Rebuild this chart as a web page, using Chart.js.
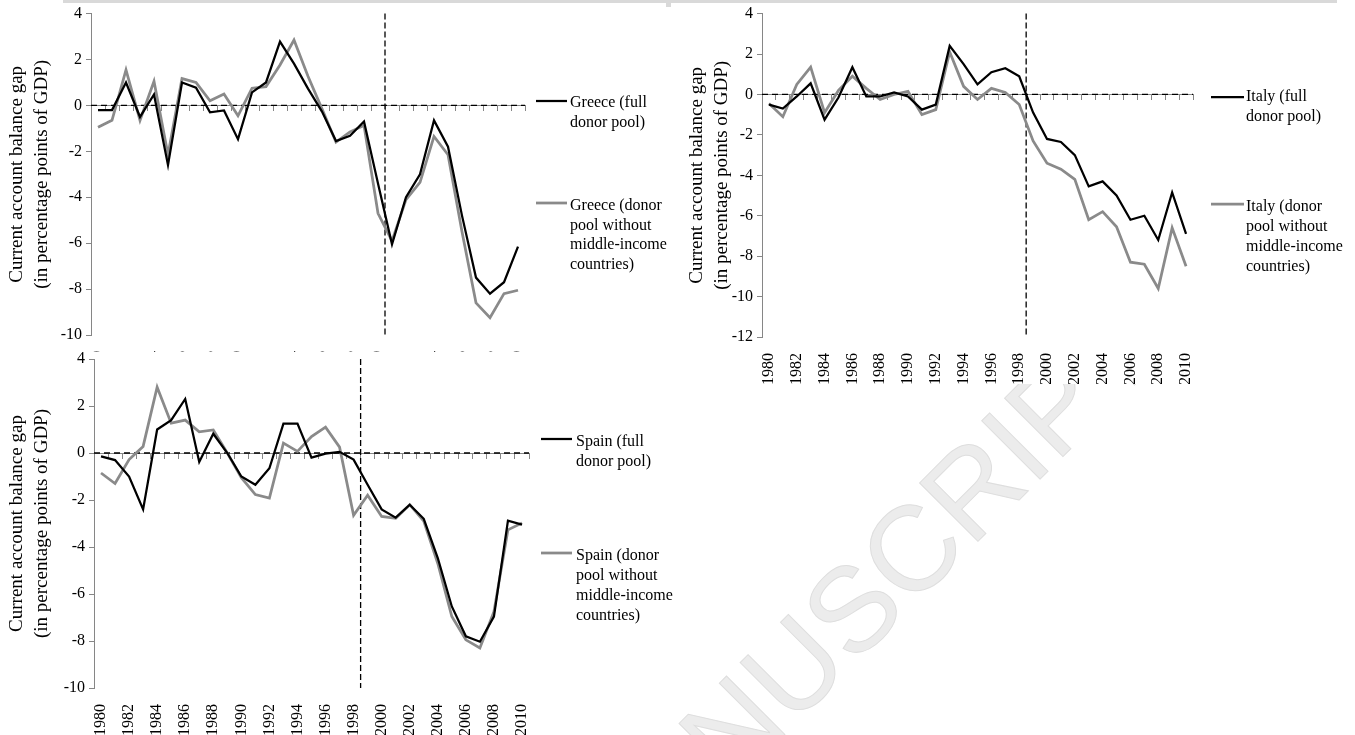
<!DOCTYPE html>
<html>
<head>
<meta charset="utf-8">
<script src="https://cdn.jsdelivr.net/npm/chart.js@4.4.0/dist/chart.umd.min.js"></script>
<style>
  html, body { margin: 0; padding: 0; background: #fff; }
  body { width: 1355px; height: 735px; position: relative; overflow: hidden; }
  .panel { position: absolute; z-index: 2; overflow: hidden; }
  #greeceWrap { left: 0; top: 0; width: 680px; height: 352px; background: #fff; }
  #italyWrap { left: 680px; top: 0; width: 675px; height: 384px; background: #fff; }
  #spainWrap { left: 0; top: 345px; width: 680px; height: 390px; z-index: 3; }
  #topBand { position: absolute; left: 63px; top: 0; width: 1274px; height: 3px; background: #d9d9d9; z-index: 4; }
  #topTick { position: absolute; left: 666px; top: 0; width: 5px; height: 7px; background: #d9d9d9; z-index: 4; }
  #watermark {
    position: absolute; left: 88px; top: 1317px; z-index: 1;
    font-family: 'Liberation Sans', sans-serif; font-size: 120px; line-height: 110px; height: 110px;
    white-space: nowrap; color: #ececec; -webkit-text-stroke: 1px #dedede;
    transform-origin: 0 50%; transform: rotate(-45deg);
  }
</style>
</head>
<body>
<div id="watermark">ACCEPTED MANUSCRIPT</div>
<div id="topBand"></div>
<div id="topTick"></div>
<div class="panel" id="greeceWrap"><canvas id="greeceChart" width="680" height="420"></canvas></div>
<div class="panel" id="italyWrap"><canvas id="italyChart" width="675" height="384"></canvas></div>
<div class="panel" id="spainWrap"><canvas id="spainChart" width="680" height="390"></canvas></div>
<script>
// Current account balance gaps, synthetic control vs. actual, 1980-2010.

const years = ['1980', '1981', '1982', '1983', '1984', '1985', '1986', '1987', '1988', '1989',
    '1990', '1991', '1992', '1993', '1994', '1995', '1996', '1997', '1998', '1999',
    '2000', '2001', '2002', '2003', '2004', '2005', '2006', '2007', '2008', '2009', '2010'];

const greeceFull = [-0.2, -0.2, 1.0, -0.5, 0.48, -2.6, 1.0, 0.77, -0.3, -0.22,
    -1.47, 0.57, 1.0, 2.78, 1.82, 0.73, -0.27, -1.55, -1.32, -0.7,
    -3.4, -6.05, -4.0, -3.0, -0.65, -1.8, -4.8, -7.5, -8.2, -7.7, -6.15];
const greeceNoMiddle = [-0.95, -0.65, 1.55, -0.65, 1.05, -2.15, 1.17, 1.0, 0.2, 0.5,
    -0.45, 0.75, 0.82, 1.76, 2.85, 1.27, -0.15, -1.6, -1.15, -0.87,
    -4.7, -5.9, -4.1, -3.35, -1.35, -2.15, -5.5, -8.6, -9.25, -8.2, -8.05];

const italyFull = [-0.5, -0.7, -0.1, 0.55, -1.25, -0.15, 1.35, -0.1, -0.1, 0.1,
    -0.1, -0.75, -0.5, 2.4, 1.5, 0.5, 1.1, 1.3, 0.9, -0.9,
    -2.2, -2.35, -3.0, -4.55, -4.3, -5.0, -6.2, -6.0, -7.2, -4.85, -6.9];
const italyNoMiddle = [-0.45, -1.1, 0.5, 1.35, -0.9, 0.2, 0.9, 0.3, -0.25, 0.0,
    0.15, -1.0, -0.75, 2.1, 0.4, -0.25, 0.3, 0.1, -0.5, -2.3,
    -3.4, -3.7, -4.2, -6.2, -5.8, -6.55, -8.3, -8.4, -9.6, -6.6, -8.5];

const spainFull = [-0.14, -0.3, -1.0, -2.4, 1.0, 1.4, 2.3, -0.38, 0.82, 0.0,
    -1.0, -1.35, -0.65, 1.25, 1.25, -0.2, -0.03, 0.05, -0.28, -1.35,
    -2.4, -2.75, -2.2, -2.8, -4.47, -6.53, -7.8, -8.03, -6.96, -2.88, -3.05];
const spainNoMiddle = [-0.85, -1.3, -0.28, 0.28, 2.8, 1.27, 1.4, 0.9, 0.98, 0.0,
    -1.05, -1.77, -1.92, 0.42, 0.07, 0.7, 1.1, 0.25, -2.65, -1.8,
    -2.7, -2.78, -2.2, -2.9, -4.7, -6.96, -7.95, -8.3, -6.75, -3.27, -2.98];

const greeceLegend = [['Greece (full', 'donor pool)'], ['Greece (donor', 'pool without', 'middle-income', 'countries)']];
const italyLegend = [['Italy (full', 'donor pool)'], ['Italy (donor', 'pool without', 'middle-income', 'countries)']];
const spainLegend = [['Spain (full', 'donor pool)'], ['Spain (donor', 'pool without', 'middle-income', 'countries)']];

const yAxisTitle = ['Current account balance gap', '(in percentage points of GDP)'];

const FONT = "'Liberation Serif', 'Times New Roman', serif";
const AXIS_GREY = '#868686';

// zero line (dashed) and the euro-entry marker between two years
const referenceLines = {
    id: 'referenceLines',
    beforeDatasetsDraw(chart, args, opts) {
        const { ctx, chartArea, scales } = chart;
        const y0 = scales.y.getPixelForValue(0);
        const idx = years.indexOf(opts.breakAfter);
        const xBreak = (scales.x.getPixelForValue(idx) + scales.x.getPixelForValue(idx + 1)) / 2;

        ctx.save();
        ctx.strokeStyle = '#000';
        ctx.lineWidth = 1.3;
        ctx.setLineDash([6, 4]);
        ctx.beginPath();
        ctx.moveTo(chartArea.left, y0);
        ctx.lineTo(chartArea.right, y0);
        ctx.stroke();

        ctx.setLineDash([6, 3]);
        ctx.beginPath();
        ctx.moveTo(xBreak, chartArea.top);
        ctx.lineTo(xBreak, chartArea.bottom);
        ctx.stroke();
        ctx.restore();
    }
};

// legend on the right with wrapped labels, like the Excel original
const sideLegend = {
    id: 'sideLegend',
    afterDraw(chart, args, opts) {
        const { ctx } = chart;
        ctx.save();
        ctx.font = `16px ${FONT}`;
        ctx.textBaseline = 'middle';
        ctx.textAlign = 'left';
        chart.data.datasets.forEach((ds, i) => {
            const item = opts.items[i];
            ctx.strokeStyle = ds.borderColor;
            ctx.lineWidth = ds.borderWidth;
            ctx.beginPath();
            ctx.moveTo(opts.lineStart, item.lineY);
            ctx.lineTo(opts.lineEnd, item.lineY);
            ctx.stroke();
            ctx.fillStyle = '#000';
            opts.lines[i].forEach((text, j) => {
                ctx.fillText(text, opts.textX, item.textY + j * opts.lineGap);
            });
        });
        ctx.restore();
    }
};

function buildPanel(canvasId, cfg) {
    return new Chart(document.getElementById(canvasId), {
        type: 'line',
        data: {
            labels: years,
            datasets: [
                {
                    label: cfg.legend[0].join(' '),
                    data: cfg.full,
                    xAxisID: 'x',
                    borderColor: '#000000',
                    borderWidth: 2.25,
                    pointRadius: 0,
                    tension: 0,
                },
                {
                    label: cfg.legend[1].join(' '),
                    data: cfg.noMiddle,
                    xAxisID: 'x',
                    borderColor: '#8a8a8a',
                    borderWidth: 2.75,
                    pointRadius: 0,
                    tension: 0,
                }
            ]
        },
        options: {
            responsive: false,
            animation: false,
            events: [],
            layout: { padding: cfg.padding },
            plugins: {
                legend: { display: false },
                tooltip: { enabled: false },
                referenceLines: { breakAfter: cfg.breakAfter },
                sideLegend: Object.assign({ lines: cfg.legend }, cfg.legendPos),
            },
            scales: {
                x: {
                    type: 'category',
                    offset: true,
                    grid: { display: false },
                    border: { display: false },
                    ticks: {
                        autoSkip: false,
                        minRotation: 90,
                        maxRotation: 90,
                        padding: 8,
                        color: '#000',
                        font: { family: FONT, size: 16 },
                        callback: (value, index) => (index % 2 === 0 ? years[index] : ''),
                    },
                    afterFit: (scale) => { scale.height = cfg.xHeight; },
                },
                x0: {
                    type: 'category',
                    axis: 'x',
                    position: { y: 0 },
                    offset: true,
                    grid: { offset: true, drawOnChartArea: false, color: AXIS_GREY, tickLength: 5 },
                    border: { color: AXIS_GREY, width: 1 },
                    ticks: { display: false, autoSkip: false },
                },
                y: {
                    min: cfg.yMin,
                    max: 4,
                    ticks: {
                        stepSize: 2,
                        padding: 4,
                        color: '#000',
                        font: { family: FONT, size: 16 },
                    },
                    grid: { drawOnChartArea: false, color: AXIS_GREY, tickLength: 5 },
                    border: { color: AXIS_GREY, width: 1 },
                    title: {
                        display: true,
                        text: yAxisTitle,
                        color: '#000',
                        font: { family: FONT, size: 19, lineHeight: 1.35 },
                        padding: { top: 4, bottom: 0 },
                    },
                    afterFit: (scale) => { scale.width = cfg.axisX; },
                }
            }
        },
        plugins: [referenceLines, sideLegend]
    });
}

buildPanel('greeceChart', {
    full: greeceFull,
    noMiddle: greeceNoMiddle,
    legend: greeceLegend,
    breakAfter: '2000',
    yMin: -10,
    axisX: 91,
    xHeight: 85,
    padding: { top: 12, right: 155, bottom: 0, left: 0 },
    legendPos: { lineStart: 536, lineEnd: 567, textX: 570, lineGap: 19.5,
        items: [{ lineY: 101, textY: 103 }, { lineY: 203, textY: 206 }] },
});

buildPanel('italyChart', {
    full: italyFull,
    noMiddle: italyNoMiddle,
    legend: italyLegend,
    breakAfter: '1998',
    yMin: -12,
    axisX: 82,
    xHeight: 47,
    padding: { top: 11, right: 162, bottom: 0, left: 0 },
    legendPos: { lineStart: 531, lineEnd: 564, textX: 566, lineGap: 20,
        items: [{ lineY: 97, textY: 97 }, { lineY: 204, textY: 207 }] },
});

// Spain canvas starts at y=345 on the page
buildPanel('spainChart', {
    full: spainFull,
    noMiddle: spainNoMiddle,
    legend: spainLegend,
    breakAfter: '1998',
    yMin: -10,
    axisX: 94,
    xHeight: 47,
    padding: { top: 14, right: 151, bottom: 0, left: 0 },
    legendPos: { lineStart: 541, lineEnd: 572, textX: 576, lineGap: 20,
        items: [{ lineY: 94, textY: 97 }, { lineY: 208, textY: 211 }] },
});
</script>
</body>
</html>
